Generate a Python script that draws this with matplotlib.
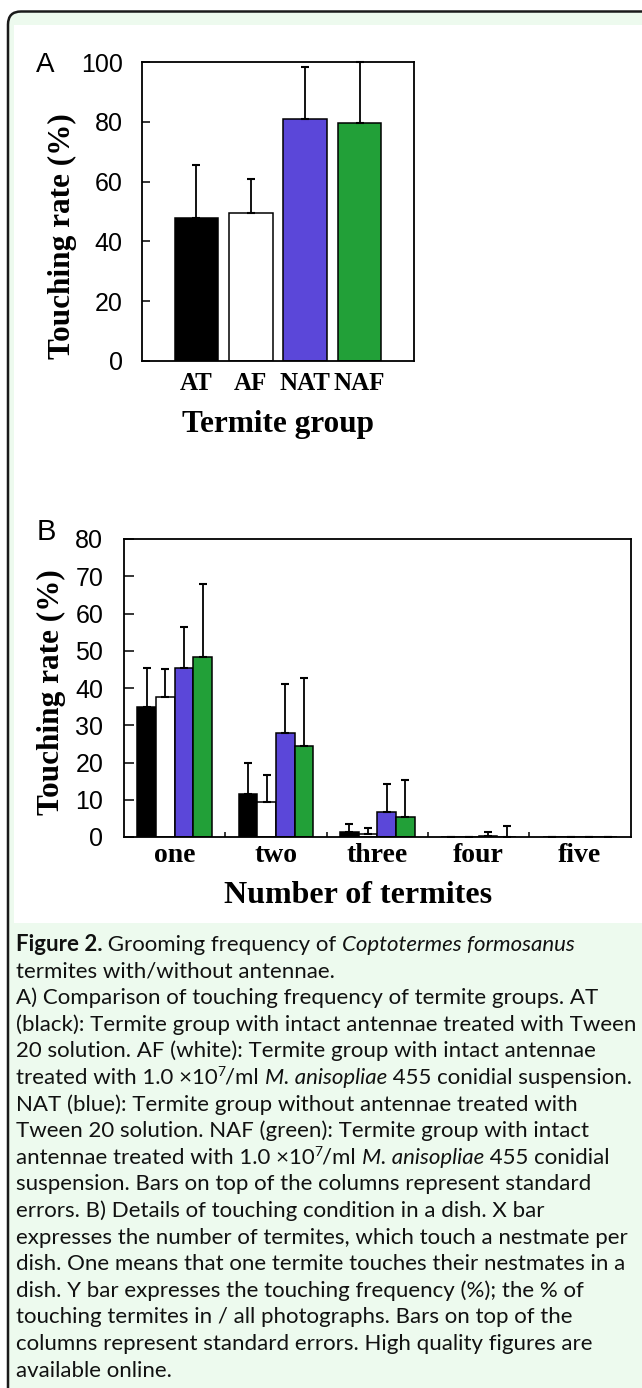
import matplotlib
matplotlib.use('Agg')
import matplotlib.pyplot as plt
import numpy as np
from matplotlib.patches import FancyBboxPatch, Rectangle
from matplotlib.transforms import IdentityTransform

# ---------------- data ----------------
groups_a = ['AT', 'AF', 'NAT', 'NAF']
rate_a = [47.8, 49.5, 80.9, 79.6]
se_a = [17.7, 11.4, 17.4, 20.4]

number_labels = ['one', 'two', 'three', 'four', 'five']
rate_at = [35.0, 11.5, 1.4, 0.0, 0.0]
se_at = [10.5, 8.5, 2.1, 0.0, 0.0]
rate_af = [37.7, 9.3, 0.7, 0.0, 0.0]
se_af = [7.3, 7.3, 1.8, 0.0, 0.0]
rate_nat = [45.3, 27.8, 6.8, 0.4, 0.0]
se_nat = [11.2, 13.3, 7.3, 0.9, 0.0]
rate_naf = [48.4, 24.4, 5.3, 0.0, 0.0]
se_naf = [19.5, 18.4, 10.0, 2.9, 0.0]

group_colors = ['#000000', '#ffffff', '#5B47D9', '#22A038']

yticks_a = [0, 20, 40, 60, 80, 100]
yticks_b = [0, 10, 20, 30, 40, 50, 60, 70, 80]

caption_lines = [
    [('Figure 2.', 'b'), (' Grooming frequency of ', 'n'), ('Coptotermes formosanus', 'i')],
    [('termites with/without antennae.', 'n')],
    [('A) Comparison of touching frequency of termite groups. AT', 'n')],
    [('(black): Termite group with intact antennae treated with Tween', 'n')],
    [('20 solution. AF (white): Termite group with intact antennae', 'n')],
    [('treated with 1.0 \u00d710', 'n'), ('7', 'sup'), ('/ml ', 'n'), ('M. anisopliae', 'i'),
     (' 455 conidial suspension.', 'n')],
    [('NAT (blue): Termite group without antennae treated with', 'n')],
    [('Tween 20 solution. NAF (green): Termite group with intact', 'n')],
    [('antennae treated with 1.0 \u00d710', 'n'), ('7', 'sup'), ('/ml ', 'n'), ('M. anisopliae', 'i'),
     (' 455 conidial', 'n')],
    [('suspension. Bars on top of the columns represent standard', 'n')],
    [('errors. B) Details of touching condition in a dish. X bar', 'n')],
    [('expresses the number of termites, which touch a nestmate per', 'n')],
    [('dish. One means that one termite touches their nestmates in a', 'n')],
    [('dish. Y bar expresses the touching frequency (%); the % of', 'n')],
    [('touching termites in / all photographs. Bars on top of the', 'n')],
    [('columns represent standard errors. High quality figures are', 'n')],
    [('available online.', 'n')],
]

# ---------------- figure ----------------
W, H = 642, 1388
DPI = 100
plt.rcParams['font.family'] = ['Liberation Sans', 'DejaVu Sans']
fig = plt.figure(figsize=(W / DPI, H / DPI), dpi=DPI)
fig.patch.set_facecolor('white')

MINT = '#EDFAEE'
SERIF = 'Liberation Serif'
CAP_FONT = ['Lato', 'DejaVu Sans']


def fx(x):
    return x / W


def fy(y):
    return 1 - y / H


# outer rounded box
box = FancyBboxPatch((8, -40), 720, H - 11.5 + 40,
                     boxstyle='round,pad=0,rounding_size=13',
                     transform=IdentityTransform(), facecolor=MINT,
                     edgecolor='#1a1a1a', linewidth=1.8, zorder=-3)
fig.add_artist(box)
white = Rectangle((14, H - 923), 720, 923 - 25, transform=IdentityTransform(),
                  facecolor='white', edgecolor='none', zorder=-2)
fig.add_artist(white)

# ---------------- panel A ----------------
axA = fig.add_axes([fx(142), fy(361), 272 / W, 299 / H])
axA.set_zorder(1)
xa = np.arange(len(groups_a))
axA.bar(xa, rate_a, width=0.8, color=group_colors, edgecolor='black',
        linewidth=1.1, zorder=2)
axA.errorbar(xa, rate_a, yerr=[np.zeros(len(se_a)), se_a], fmt='none',
             ecolor='black', elinewidth=1.3, capsize=2.9, capthick=1.5,
             zorder=3, clip_on=False)
axA.set_xlim(-1, 4)
axA.set_ylim(0, 100)
axA.set_yticks(yticks_a)
axA.set_yticklabels([str(v) for v in yticks_a])
axA.tick_params(axis='y', direction='in', length=6, width=1.1, pad=14,
                labelsize=18)
axA.set_xticks(xa)
axA.set_xticklabels(groups_a, fontfamily=SERIF, fontweight='bold', fontsize=18)
axA.tick_params(axis='x', length=0, pad=8)
for s in axA.spines.values():
    s.set_linewidth(1.3)

fig.text(fx(36), fy(72), 'A', fontsize=20, va='baseline', ha='left')
fig.text(fx(62), fy(236), 'Touching rate (%)', rotation=90, ha='center',
         va='center', family=SERIF, weight='bold', fontsize=22.5)
fig.text(fx(278.5), fy(431.7), 'Termite group', ha='center', va='baseline',
         family=SERIF, weight='bold', fontsize=22.5)

# ---------------- panel B ----------------
axB = fig.add_axes([fx(124), fy(837), 506.5 / W, 298 / H])
axB.set_zorder(1)
xb = np.arange(len(number_labels))
bw = 0.184
series_b = [(rate_at, se_at), (rate_af, se_af), (rate_nat, se_nat), (rate_naf, se_naf)]
offsets = (np.arange(4) - 1.5) * bw
for (vals, ses), off, col in zip(series_b, offsets, group_colors):
    axB.bar(xb + off, vals, width=bw, color=col, edgecolor='black',
            linewidth=1.1, zorder=2)
    axB.errorbar(xb + off, vals, yerr=[np.zeros(len(ses)), ses], fmt='none',
                 ecolor='black', elinewidth=1.3, capsize=2.9, capthick=1.5,
                 zorder=3)
axB.set_xlim(-0.5, 4.5)
axB.set_ylim(0, 80)
axB.set_yticks(yticks_b)
axB.set_yticklabels([str(v) for v in yticks_b])
axB.tick_params(axis='y', direction='in', length=7, width=1.1, pad=15,
                labelsize=18)
axB.set_xticks(xb)
axB.set_xticklabels(number_labels, fontfamily=SERIF, fontweight='bold',
                    fontsize=20)
axB.set_xticks(xb[:-1] + 0.5, minor=True)
axB.tick_params(axis='x', which='major', length=0, pad=4.5)
axB.tick_params(axis='x', which='minor', direction='in', length=3.5, width=1.1)
for s in axB.spines.values():
    s.set_linewidth(1.3)

fig.text(fx(37), fy(540), 'B', fontsize=21, va='baseline', ha='left')
fig.text(fx(51), fy(692.5), 'Touching rate (%)', rotation=90, ha='center',
         va='center', family=SERIF, weight='bold', fontsize=22.5)
fig.text(fx(358), fy(903.3), 'Number of termites', ha='center', va='baseline',
         family=SERIF, weight='bold', fontsize=23)

# ---------------- caption ----------------
renderer = fig.canvas.get_renderer()


def seg_props(style, size):
    if style == 'b':
        return dict(fontsize=size, weight='bold', style='normal')
    if style == 'i':
        return dict(fontsize=size, weight='normal', style='italic')
    if style == 'sup':
        return dict(fontsize=size * 0.62, weight='normal', style='normal')
    return dict(fontsize=size, weight='normal', style='normal')


def seg_width(s, props):
    t1 = fig.text(0, 0, '|' + s + '|', family=CAP_FONT, **props)
    t2 = fig.text(0, 0, '||', family=CAP_FONT, **props)
    w = t1.get_window_extent(renderer).width - t2.get_window_extent(renderer).width
    t1.remove()
    t2.remove()
    return w


ref_line = caption_lines[3][0][0]
base_size = 14.0
cap_size = base_size * 621.0 / seg_width(ref_line, seg_props('n', base_size))

x0 = 15.5
y0 = 951.0
dy = 26.6
for i, line in enumerate(caption_lines):
    x = x0
    yb = y0 + i * dy
    for s, style in line:
        props = seg_props(style, cap_size)
        yy = yb
        if style == 'sup':
            yy = yb - cap_size * DPI / 72 * 0.36
        fig.text(fx(x), fy(yy), s, family=CAP_FONT, va='baseline', ha='left',
                 color='#111111', **props)
        x += seg_width(s, props)

fig.savefig('out.png', dpi=DPI)
